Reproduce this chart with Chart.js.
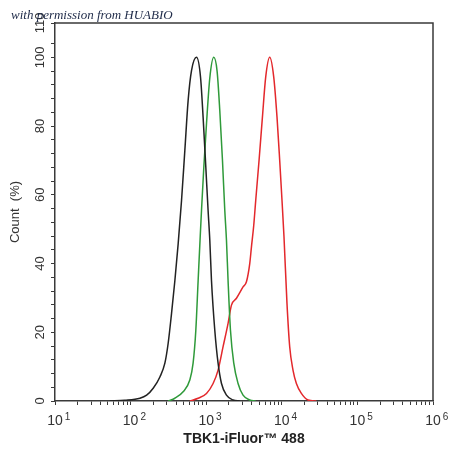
<!DOCTYPE html>
<html>
<head>
<meta charset="utf-8">
<script src="https://cdn.jsdelivr.net/npm/chart.js@4/dist/chart.umd.min.js"></script>
<style>
  html, body { margin: 0; padding: 0; background: #fff; }
  #wrap { width: 450px; height: 454px; position: relative; }
</style>
</head>
<body>
<div id="wrap"><canvas id="c" width="450" height="454"></canvas></div>
<script>
// ---- data ----
const blackX = [53, 84, 133, 163, 199, 244, 284, 314, 348, 385, 426, 472, 522, 577, 640, 745, 841, 910, 988, 1059, 1116, 1175, 1299, 1436, 1593, 1854, 2266, 2780];
const blackY = [0, 0.2, 0.8, 1.7, 3.7, 7, 11, 16.8, 25.5, 35, 45.8, 58.4, 73, 87.5, 96.2, 100, 94.3, 82.6, 68.1, 55.5, 46.8, 35, 20.6, 11, 5.1, 1.7, 0.3, 0];

const greenX = [314, 385, 495, 607, 671, 729, 782, 841, 867, 930, 1009, 1116, 1260, 1393, 1512, 1642, 1761, 1854, 1947, 2094, 2316, 2639, 3072, 3767, 4520];
const greenY = [0, 0.8, 2.7, 6.1, 11, 20.6, 35, 49.7, 55.5, 68, 80.7, 94, 100, 96, 84.6, 70, 55.5, 46.8, 35, 20.6, 11, 5.1, 1.7, 0.3, 0];

const redX = [607, 782, 1009, 1234, 1436, 1672, 1947, 2159, 2514, 3072, 3406, 3767, 3966, 4250, 4520, 5000, 5543, 6128, 6921, 7817, 8643, 9383, 10060, 10690, 11710, 12720, 14060, 15590, 18150, 22190, 28640];
const redY = [0, 0.8, 2.2, 5.1, 9, 15.8, 22.6, 27.9, 29.9, 33.2, 34.7, 40, 44.8, 51, 58.4, 70, 82.6, 94.3, 100, 94.3, 82.6, 70, 58.4, 47.8, 28.4, 15.8, 9, 5.1, 2.2, 0.3, 0];

const xMin = 10, xMax = 1000000;
const yMin = 0, yMax = 110;
const yTickValues = [0, 4, 8, 12, 16, 20, 24, 28, 32, 36, 40, 44, 48, 52, 56, 60, 64, 68, 72, 76, 80, 84, 88, 92, 96, 100, 104, 110];
const yLabelValues = [0, 20, 40, 60, 80, 100, 110];
const xDecades = [1, 2, 3, 4, 5, 6];
const xMultipliers = [1, 2, 3, 4, 5, 6, 7, 8, 9];

const xTitle = 'TBK1-iFluor\u2122 488';
const yTitle = 'Count  (%)';
const watermark = 'with permission from HUABIO';

const tickFont = '"Liberation Sans", Arial, sans-serif';

function pts(xs, ys) { return xs.map((x, i) => ({x: x, y: ys[i]})); }
function isDecade(v) { const e = Math.log10(v); return Math.abs(e - Math.round(e)) < 1e-9; }

const frame = {
  id: 'frame',
  afterDatasetsDraw(chart) {
    const a = chart.chartArea, ctx = chart.ctx;
    ctx.save();
    ctx.strokeStyle = '#3a3a3a';
    ctx.lineWidth = 1.5;
    ctx.beginPath();
    ctx.moveTo(a.left, a.top);
    ctx.lineTo(a.right, a.top);
    ctx.lineTo(a.right, a.bottom);
    ctx.stroke();
    ctx.restore();
  },
  afterDraw(chart) {
    const ctx = chart.ctx;
    const xs = chart.scales.x;
    // exponents of the decade tick labels
    ctx.save();
    ctx.font = '14px ' + tickFont;
    const baseW = ctx.measureText('10').width;
    ctx.font = '10px ' + tickFont;
    ctx.fillStyle = '#333';
    ctx.textAlign = 'left';
    ctx.textBaseline = 'alphabetic';
    xs.ticks.forEach(t => {
      if (isDecade(t.value)) {
        const px = xs.getPixelForValue(t.value);
        ctx.fillText(String(Math.round(Math.log10(t.value))), px + baseW / 2 + 2, 420);
      }
    });
    ctx.restore();
    // watermark
    ctx.save();
    ctx.font = 'italic 13px "Liberation Serif", "DejaVu Serif", serif';
    ctx.fillStyle = '#1e2a48';
    ctx.textBaseline = 'alphabetic';
    ctx.textAlign = 'left';
    ctx.fillText(watermark, 11, 19);
    ctx.restore();
  }
};

const ds = (label, xs, ys, color) => ({
  label: label,
  data: pts(xs, ys),
  borderColor: color,
  borderWidth: 1.5,
  pointRadius: 0,
  fill: false,
  cubicInterpolationMode: 'monotone',
  tension: 0.4
});

new Chart(document.getElementById('c'), {
  type: 'line',
  data: {
    datasets: [
      ds('Control', blackX, blackY, '#222222'),
      ds('Isotype', greenX, greenY, '#2f9a3a'),
      ds('TBK1', redX, redY, '#e3282c')
    ]
  },
  options: {
    responsive: false,
    animation: false,
    devicePixelRatio: 1,
    layout: { padding: { top: 23, right: 17, left: 0, bottom: 0 } },
    plugins: { legend: { display: false }, tooltip: { enabled: false } },
    scales: {
      x: {
        type: 'logarithmic',
        min: xMin,
        max: xMax,
        afterBuildTicks(scale) {
          const t = [];
          xDecades.forEach(d => {
            if (d < 6) xMultipliers.forEach(m => t.push({value: m * Math.pow(10, d)}));
            else t.push({value: Math.pow(10, d)});
          });
          scale.ticks = t;
        },
        afterFit(scale) { scale.height = 53; },
        ticks: {
          autoSkip: false,
          maxRotation: 0,
          minRotation: 0,
          padding: 8,
          color: '#333',
          font: { family: tickFont, size: 14 },
          callback(v) { return isDecade(v) ? '10' : ''; }
        },
        grid: { display: true, drawOnChartArea: false, drawTicks: true, tickLength: 4, color: '#3a3a3a', lineWidth: 1 },
        border: { display: true, color: '#3a3a3a', width: 1.5 },
        title: {
          display: true,
          text: xTitle,
          color: '#222',
          font: { family: tickFont, size: 14, weight: 'bold' },
          padding: { top: 2, bottom: 6 }
        }
      },
      y: {
        type: 'linear',
        min: yMin,
        max: yMax,
        afterBuildTicks(scale) { scale.ticks = yTickValues.map(v => ({value: v})); },
        afterFit(scale) { scale.width = 55; },
        ticks: {
          autoSkip: false,
          minRotation: 90,
          maxRotation: 90,
          crossAlign: 'center',
          padding: 0,
          color: '#333',
          font: { family: tickFont, size: 13 },
          callback(v) { return yLabelValues.includes(v) ? String(v) : ''; }
        },
        grid: { display: true, drawOnChartArea: false, drawTicks: true, tickLength: 4, color: '#3a3a3a', lineWidth: 1 },
        border: { display: true, color: '#3a3a3a', width: 1.5 },
        title: {
          display: true,
          text: yTitle,
          color: '#333',
          font: { family: tickFont, size: 13 },
          padding: { top: 8, bottom: 0 }
        }
      }
    }
  },
  plugins: [frame]
});
</script>
</body>
</html>
